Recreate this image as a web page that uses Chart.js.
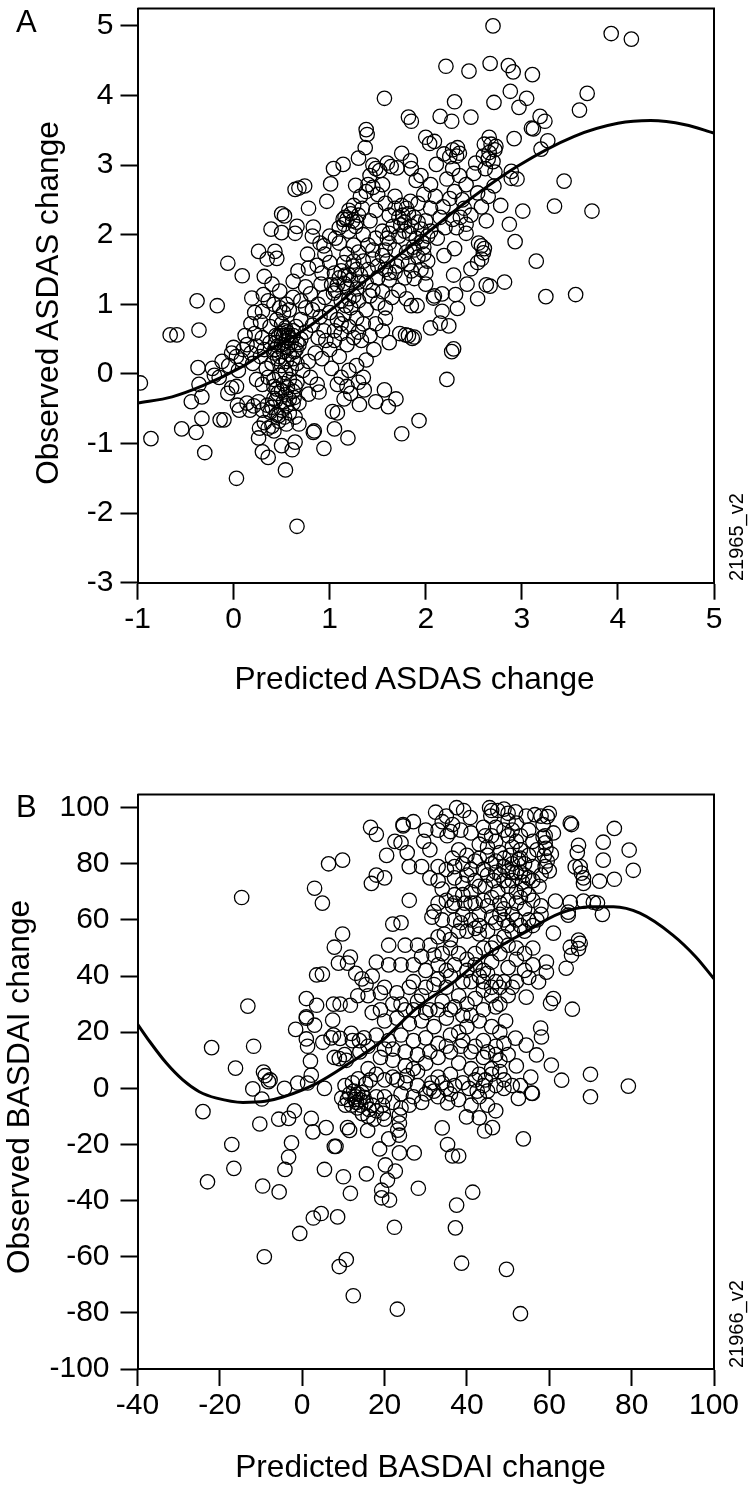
<!DOCTYPE html>
<html>
<head>
<meta charset="utf-8">
<script src="https://cdn.jsdelivr.net/npm/chart.js@4"></script>
<style>
  html, body { margin: 0; padding: 0; background: #fff; }
  body { width: 748px; height: 1486px; position: relative; overflow: hidden; font-family: "Liberation Sans", sans-serif; color: #000; }
  canvas { position: absolute; left: 0; display: block; }
  .tag { position: absolute; font-size: 31px; line-height: 31px; }
  .code { position: absolute; font-size: 20px; line-height: 20px; transform-origin: left top; transform: rotate(-90deg); white-space: nowrap; }
  .xtitle { position: absolute; font-size: 31.6px; line-height: 36px; white-space: nowrap; transform: translate(-50%, -50%); }
  .ytitle { position: absolute; font-size: 31.6px; line-height: 36px; white-space: nowrap; transform: translate(-50%, -50%) rotate(-90deg); }
</style>
</head>
<body>
<canvas id="chartA" width="748" height="700" style="top:0"></canvas>
<canvas id="chartB" width="748" height="700" style="top:786px"></canvas>
<div class="tag" style="left:16px;top:6px">A</div>
<div class="tag" style="left:16px;top:791px">B</div>
<div class="code" style="left:726px;top:581px">21965_v2</div>
<div class="code" style="left:726px;top:1368px">21966_v2</div>
<div class="xtitle" style="left:414.5px;top:678px">Predicted ASDAS change</div>
<div class="ytitle" style="left:47px;top:302.5px">Observed ASDAS change</div>
<div class="xtitle" style="left:420.5px;top:1466px">Predicted BASDAI change</div>
<div class="ytitle" style="left:18px;top:1087px">Observed BASDAI change</div>
<script>
const ticksAx = [-1, 0, 1, 2, 3, 4, 5];
const ticksAy = [-3, -2, -1, 0, 1, 2, 3, 4, 5];
const ticksBx = [-40, -20, 0, 20, 40, 60, 80, 100];
const ticksBy = [-100, -80, -60, -40, -20, 0, 20, 40, 60, 80, 100];

const curveA = [[-1,-0.42],[-0.64,-0.33],[-0.32,-0.17],[0.07,0.09],[0.35,0.33],[0.69,0.59],[1.04,0.95],[1.24,1.19],[1.91,1.91],[2.43,2.48],[2.95,2.98],[3.54,3.41],[4.0,3.6],[4.34,3.64],[4.7,3.58],[5,3.46]];
const curveB = [[-40,22.9],[-37,16.6],[-33,9],[-29,3],[-25,-1.2],[-20.8,-3.5],[-14.4,-5],[-9,-4.6],[-4.7,-3.1],[3.5,1.8],[11.5,9],[19,16.5],[27.8,28.6],[36.8,37.9],[44.7,47.5],[53.7,55.3],[62.7,62.4],[70,64.7],[75.6,64.7],[82,62.4],[90,54.6],[95.6,46.8],[100,39]];

const scatterA = [
[2.70,5.00],[3.93,4.89],[4.14,4.81],[2.21,4.42],[2.45,4.35],[2.67,4.46],[2.86,4.43],[2.91,4.34],[3.11,4.30],[2.88,4.06],[3.05,3.96],[2.71,3.90],[2.97,3.83],[2.30,3.91],[1.57,3.96],[3.68,4.03],[3.60,3.79],[2.15,3.70],[2.27,3.63],[2.47,3.69],[1.82,3.69],[1.85,3.63],[3.19,3.70],[3.24,3.63],[3.10,3.53],[3.12,3.52],[2.92,3.38],[3.27,3.35],[3.20,3.23],[2.0,3.40],[2.04,3.31],[2.09,3.34],[2.66,3.40],[2.61,3.30],[2.73,3.27],[2.68,3.30],[2.72,3.22],[2.66,3.18],[2.60,3.13],[2.70,3.05],[2.65,3.09],[2.33,3.25],[2.35,3.17],[2.32,3.13],[2.19,3.16],[2.11,3.01],[2.25,3.12],[2.28,3.22],
[1.75,3.17],[1.84,3.06],[1.60,3.03],[1.64,2.98],[1.70,2.96],[2.52,3.03],[2.5,2.88],[2.89,2.91],[2.95,2.80],[2.89,2.81],[2.71,2.70],[2.54,2.60],[3.44,2.77],[3.34,2.41],[3.73,2.34],[2.78,2.42],[3.01,2.34],[2.63,2.20],[2.87,2.15],[2.93,1.90],[3.15,1.62],[3.25,1.11],[3.56,1.14],[2.82,1.32],[2.63,1.28],[2.67,1.26],[2.43,1.29],[2.29,1.42],[2.47,1.51],
[2.55,1.88],[2.58,1.84],[2.61,1.80],[2.60,1.74],[2.58,1.65],[2.54,1.60],[2.30,1.80],[2.19,1.70],[2.0,1.45],[1.88,1.37],[2.0,1.29],[2.09,1.12],[2.17,1.15],[2.31,1.14],[2.54,1.08],[2.22,-0.08],[2.27,0.32],[2.29,0.36],[1.93,-0.67],[1.75,-0.86],[2.05,0.66],[2.15,0.73],[2.24,0.69],[2.17,0.90],[2.33,0.94],[2.08,1.09],[1.91,0.98],[1.73,0.58],[1.86,0.51],[1.79,0.56],[1.82,0.55],[1.88,0.53],
[0.66,-2.19],[0.03,-1.50],[0.54,-1.38],[-0.86,-0.93],[-0.97,-0.13],[-0.66,0.56],[-0.59,0.56],[-0.38,1.05],[-0.17,0.98],[-0.36,0.63],[-0.37,0.09],[-0.36,-0.15],[-0.33,-0.33],[-0.44,-0.40],[-0.33,-0.64],[-0.54,-0.79],[-0.39,-0.84],[-0.30,-1.13],[-0.14,-0.66],[-0.10,-0.66],
[0.26,-0.92],[0.30,-1.12],[0.36,-1.20],[0.50,-1.03],[0.61,-1.09],[0.64,-0.98],[0.94,-1.07],[1.19,-0.92],[0.83,-0.84],[0.84,-0.82],[1.05,-0.79],[0.68,-0.72],[1.03,-0.54],[1.08,-0.56],[1.31,-0.44],[1.48,-0.40],[1.61,-0.47],[1.69,-0.36],[1.57,-0.23],[1.36,-0.23],[1.15,-0.36],[0.89,-0.26],[0.87,-0.15],[0.78,-0.29],[0.68,-0.42],
[1.38,3.51],[1.39,3.44],[1.37,3.25],[1.30,3.10],[1.14,3.01],[1.04,2.95],[1.01,2.73],[1.27,2.71],[0.97,2.48],[0.74,2.70],[0.68,2.67],[0.64,2.65],[0.78,2.38],[0.50,2.30],[0.53,2.27],[0.39,2.08],[0.50,2.03],[0.64,2.02],[0.66,2.12],[0.83,2.11],[0.82,1.98],[0.94,1.84],[1.06,1.95],[1.00,1.98],[1.10,1.88],[0.26,1.76],[0.35,1.65],[0.43,1.76],[0.45,1.66],[-0.06,1.59],[0.09,1.41],[0.32,1.40],[0.77,1.72],[0.87,1.56],[0.78,1.52],[0.67,1.48],[0.62,1.33],[0.40,1.29],[0.91,1.29],[0.19,1.09],[0.31,1.14],[0.48,1.19],[0.80,1.15],[1.04,1.16],
[1.45,3.0],[1.48,2.95],[1.42,2.85],[1.52,2.92],[1.40,2.72],[1.45,2.68],[1.38,2.62],[1.5,2.58],[1.55,2.72],[1.32,2.55],[1.25,2.42],[1.22,2.3],[1.18,2.22],[1.3,2.28],[1.34,2.38],[1.15,2.15],[1.2,2.05],[1.27,2.12],[1.42,2.2],[1.48,2.35],[1.58,2.45],[1.62,2.28],[1.68,2.55],[1.75,2.42],[1.72,2.25],[1.66,2.12],[1.78,2.18],[1.82,2.3],[1.85,2.12],[1.78,2.05],[1.72,1.98],[1.83,2.02],[1.88,2.25],[1.92,2.45],[1.98,2.58],[2.05,2.72],[1.9,2.78],[1.85,2.95],[1.95,2.85],[2.1,2.55],[2.18,2.4],[2.25,2.52],[2.3,2.62],[2.38,2.5],[2.42,2.72],[2.35,2.85],[2.22,2.8],[2.28,2.95],
[2.4,2.38],[2.36,2.25],[2.28,2.22],[2.42,2.15],[2.47,2.28],[2.32,2.1],[2.0,2.2],[1.95,2.08],[1.9,1.95],[2.05,2.05],[2.12,1.95],[1.98,1.82],[1.87,1.82],[1.8,1.75],[1.75,1.62],[1.68,1.78],[1.62,1.88],[1.55,1.7],[1.6,1.62],[1.5,1.55],[1.7,1.55],[1.82,1.58],[1.92,1.68],[2.02,1.62],[1.95,1.5],[1.78,1.38],[1.62,1.35],[1.5,1.38],[1.4,1.5],[1.35,1.62],[1.3,1.75],[1.4,1.85],[1.48,1.95],[1.55,2.05],[1.35,2.0],[1.25,1.85],[1.18,1.72],[1.15,1.6],[1.12,1.48],[1.2,1.42],[1.28,1.5],[1.22,1.35],[1.15,1.3],[1.1,1.38],[1.18,1.25],[1.28,1.22],[1.38,1.32],
[1.05,1.45],[1.0,1.6],[0.95,1.72],[0.9,1.88],[1.02,1.28],[0.95,1.1],[0.88,1.0],[0.82,0.92],[0.75,0.95],[0.7,1.05],[0.62,1.1],[0.55,1.0],[0.58,0.92],[0.52,0.88],[0.48,0.95],[0.42,1.0],[0.36,1.05],[0.3,0.9],[0.22,0.88],[0.28,0.75],[0.18,0.72],[0.12,0.55],[0.22,0.58],[0.3,0.52],[0.38,0.68],[0.45,0.78],[0.5,0.72],[0.54,0.66],[0.56,0.6],[0.52,0.55],[0.58,0.52],[0.55,0.48],[0.6,0.45],[0.5,0.42],[0.56,0.38],[0.52,0.32],[0.58,0.28],[0.48,0.25],[0.62,0.22],[0.55,0.18],[0.5,0.12],[0.6,0.08],[0.54,0.02],[0.48,-0.02],[0.58,-0.08],[0.52,-0.14],[0.56,-0.2],[0.5,-0.24],[0.54,-0.3],[0.58,-0.36],[0.52,-0.4],[0.55,-0.46],[0.5,-0.52],[0.58,-0.56],[0.53,-0.62],[0.47,-0.68],[0.4,-0.75],[0.42,-0.82],[0.36,-0.78],[0.55,-0.72],[0.45,-0.58],
[0.65,0.35],[0.7,0.5],[0.75,0.6],[0.82,0.7],[0.9,0.82],[1.0,0.88],[1.08,0.78],[1.15,0.85],[1.22,0.95],[1.3,1.05],[1.42,1.12],[1.5,1.02],[1.58,0.95],[1.65,1.1],[1.72,1.2],[1.8,1.08],[1.85,0.98],[1.38,0.92],[1.28,0.8],[1.2,0.68],[1.12,0.58],[1.05,0.48],[1.0,0.35],[1.1,0.25],[1.18,0.42],[1.25,0.52],[1.33,0.48],[1.42,0.55],[1.48,0.72],[1.58,0.8],[1.35,0.72],[1.55,0.62],[1.62,0.45],[1.46,0.35],[1.38,0.2],[1.28,0.12],[1.2,0.05],[1.12,-0.05],[1.08,-0.15],[1.18,-0.18],[1.22,-0.28],[1.3,-0.12],[1.35,-0.05],[1.02,0.08],[0.92,0.22],[0.85,0.3],[0.78,0.18],[0.72,0.05],[0.8,-0.05],[0.66,-0.12],[0.96,0.48],[0.88,0.52],[0.94,0.62],
[-0.22,0.08],[-0.12,0.18],[-0.05,0.12],[-0.02,0.3],[0,0.38],[0.03,0.25],[-0.15,-0.05],[-0.2,-0.02],[-0.06,-0.28],[-0.02,-0.2],[0.03,-0.18],[0.05,0.05],[0.08,0.2],[0.1,0.35],[0.14,0.42],[0.18,0.3],[0.2,0.15],[0.24,0.4],[0.28,0.25],[0.32,0.35],[0.38,0.45],[0.4,0.15],[0.42,0.3],[0.44,0.55],[0.46,0.4],[0.34,0.08],[0.36,-0.05],[0.3,-0.15],[0.24,-0.08],[0.42,-0.18],[0.46,-0.28],
[0.04,-0.45],[0.06,-0.52],[0.14,-0.42],[0.17,-0.52],[0.21,-0.46],[0.26,-0.4],[0.3,-0.52],[0.35,-0.45],[0.38,-0.55],[0.42,-0.35],[0.32,-0.7],[0.27,-0.78],
[1.16,1.42],[1.24,1.55],[1.08,1.28],[1.32,1.42],[1.06,1.2],[1.25,1.12],[1.2,2.35],[1.16,2.25],[1.14,2.22],[1.24,2.2],[1.1,2.1],[1.28,2.18],[1.12,1.05],[1.2,1.08],[1.17,0.98],[1.62,2.02],[1.74,2.14],[1.92,2.18],[1.8,2.38],[1.6,1.95],[1.88,1.78],[1.58,1.78],[1.96,1.9],[1.76,2.28],[1.68,2.38],[1.85,1.48],[2.02,1.98],[1.68,1.46],[1.84,2.48],[1.98,1.72],[1.45,1.78],[1.58,1.5],
[0.5,0.58],[0.53,0.62],[0.57,0.55],[0.62,0.62],[0.47,0.55],[0.66,0.45],[0.44,0.45],[0.43,0.35],[0.63,0.32],[0.46,0.22],[0.66,0.15],[0.62,-0.25],[0.45,-0.22],[0.63,-0.34],[0.64,-0.18],[0.44,-0.38],[0.42,-0.08],[0.62,-0.42],[0.64,-0.62],[0.4,-0.48],[0.47,-0.6],
[2.42,2.02],[2.2,2.1],[2.15,2.25],[2.58,2.4],[2.65,2.55],[2.72,2.9],[2.62,2.95],[2.05,2.38],[1.45,1.2],[1.55,1.18],[1.62,1.45],[1.3,1.32],[1.25,1.62],[1.45,1.65],[1.3,0.6],[1.12,0.72],[1.05,0.62],[0.92,1.45],[0.75,1.25],[0.7,0.78],[0.65,0.68],[0.62,0.55],[0.68,0.42]
];

const scatterB = [
[-14.7,68],[-13.2,29.3],[-22,14.5],[-11.8,15],[-16.2,7.2],[-9.4,5.8],[-9,4.5],[-7.8,3],[-8.2,2.4],[-12,-0.2],[-4.3,0],[-1.1,1.9],[2.2,4.7],[1.3,1.9],[5.4,0],[2,9.7],[1,17.6],[1.3,15],[-1.6,21],[3,22.5],[1,25],[1,25.5],[1,32],[3.5,29.6],[7.4,24.3],[7.6,30],[9.2,30],[11.7,29.6],[13.5,33],[3.5,40.4],[4.9,40.7],[8.8,44.6],[11,44.6],[11.7,46.8],[7.8,50.3],[9.8,55],[3,71.3],[4.9,66],[6.4,80],[9.8,81.3],[16.8,73],[16.6,93],[18,90.5],[13,41],[14.5,39],[15.5,37],[16,33],[19,34],
[5,16.4],[7,18],[7.6,19],[9.2,17.8],[11.9,19.6],[12.2,17],[13.9,17],[15,18],[7.8,11],[10.3,12],[9,10.6],[10.7,10],[12.5,-1],[13,-3],[13.5,-2],[14,-4],[13.2,-5],[14.5,-1.5],[15,-3.2],[12.8,-4],[11.5,-2],[11,-4],[15.5,-5],[14.2,-6],[12,-6],[13.4,-7],[16.2,-7.5],[17,-6],[18,-3],[10.5,-6],[9.6,-3.5],
[-24.1,-8.3],[-17.1,-20],[-16.6,-28.5],[-23,-33.3],[-9.6,-34.8],[-5.6,-36.9],[-10.3,-12.7],[-9.8,-3.8],[-5.7,-11],[-3.3,-10.7],[-1.9,-8],[2.2,-10.7],[2.6,-15.5],[5.8,-14],[-2.6,-19.4],[-3.3,-24.5],[-4.2,-28.9],[5.4,-28.9],[7.8,-20.7],[8.2,-20.7],[10,-31.5],[11.7,-37.4],[15.6,-30.5],[2.7,-46.2],[4.6,-44.6],[8.6,-45.8],[-0.6,-51.7],[-9.2,-60],[10.7,-61],[9,-63.5],[12.4,-73.9],[23.1,-78.7],[53,-80.3],[49.6,-64.5],[38.7,-62.3],[37.2,-49.7],[37.5,-41.6],[41.4,-37],[22.4,-49.5],[28.2,-35.6],[21.2,-39.8],[19.3,-39],[19.3,-36.3],[20.7,-32.7],[20.2,-27.3],[22.6,-29.5],[23.6,-23],[27.2,-23],[18.8,-21.6],[21,-18],[23.6,-16.7],[23.2,-14.9],[23.6,-12.4],[23.6,-9.5],[35.3,-20],[36.5,-24.1],[38,-24.1],[34,-14.1],[39.9,-10.2],[44.3,-15.2],[46.2,-14],[43,-10.5],[53.7,-18],[11,-14],[11.5,-15],[15.9,-15],[19.7,-8.9],[35.3,-5.2],[52.5,-3.6],[55.9,-1.8],
[75.8,92.6],[73.1,87.7],[79.4,84.9],[73.1,81.3],[80.4,77.7],[75.8,74.5],[72.2,73.8],[65.1,94.5],[65.4,94],[67.1,86.6],[66.8,84],[66.3,78.9],[67.5,79],[67.8,76.7],[68.3,75],[68.3,73],[68.3,66.7],[70.7,66.3],[71.7,66],[72.9,62],[65.1,66.3],[64.6,62.8],[64.6,61.7],[61.5,66.7],[61,55.3],[67.1,52.8],[67.5,51.7],[65.1,50.3],[67.1,49.8],[65.4,47.4],[64.1,42.8],[59.3,45],[59.3,41.4],[57.4,37.9],[55,39.5],[61,32],[60.3,30.3],[65.6,28.2],[54.4,32.5],[57.9,21.5],[58.1,18.3],[49.4,24],[51.8,17.9],[54.4,15.4],[56.9,11.9],[60.5,8.3],[63,2.9],[70,5],[70,-3],[79.2,0.8],[55.7,-1.7],[55.5,4],
[32.4,98.4],[35,97],[37.5,100],[39.2,99],[40.8,96.5],[36.5,94],[36,91.5],[35.2,90],[34,95],[33,92],[38.5,92],[41,91],[43,87],[44.5,90],[45.5,100],[46,99],[45.8,97],[47.5,99],[49,99.5],[50,98],[51.8,98.5],[50,95.5],[52,94.5],[54.4,97],[56.5,97.5],[58,97],[59.5,96.8],[60,98],[58.5,94],[61,91],[59,90],[47,93],[45,86],[48,84],[30,92],[29.5,88],[31,85],[27,95],[24.5,94],[24.5,93.5],[20.5,83],[22.5,88],[24,87.5],[25.5,84],[20,75],[18,76],[26,79],[29,79],[31,75],[33,74],[34,71],
[58.5,89.5],[59,87.5],[59.2,85.5],[58.8,83],[59.5,81],[59,79],[60,77.5],[58,76],[60.5,83.5],[50,90],[52,88],[51,86],[53,85],[50.5,83],[52.5,81.5],[54,80],[49,79],[50,77.5],[51,77],[52,76.8],[53,77],[54,76],[55,75],[56,79],[53.5,73.5],[57.5,72],[48,76],[46,80],[44,78],[42,81],[40,83],[38,85],[36.5,82],[40,76],[42,74],[44.5,72],[46.5,74],[47.5,70],[50,72],[52,70],
[37,75],[39,73],[35,67],[36.5,65],[33,66],[32,63],[31.5,61],[34.5,55],[33,54],[37,66],[39.5,66],[41,66],[38.5,59],[41,60],[43,62],[45,65],[46,68],[48,66],[49,64],[51,62],[52,66],[54,64],[56,67],[58,65],[55,60],[56,58],[53,58],[51,56],[49,60],[47,59],[45,56],[43,55],[42,57],[40,56],[38,56],[36,53],[36,50],[38,48],[40,46],[42,44],[44,42],[46,45],[48,48],[50,51],[47,52],[44,50],[42,48],[52,46],[54,42],[56,44],[50,43],[47,38],[45,41],[49,38],[52,38],[51,36],
[26,67],[24,59],[22,58.5],[21,51],[25,51],[28,51],[29,47],[32,47.5],[33,44],[35,42],[30,42],[27,44],[24,44],[21,44],[18,45],[17,40],[20,36],[23,34],[26,36],[29,33],[32,37],[35,36],[38,33],[40,30],[42,32],[44,35],[46,33],[48,30],[37,29],[34,31],[31,28],[28,31],[25,28],[22,30],[19,28],[17,27],[20,24],[23,25],[26,23],[29,24],[32,22],[35,25],[38,20],[40,22],[43,24],[46,22],[48,20],[44,17],[42,15],[45,13],[47,15],[39,17],[36,19],[33,16],[30,18],[27,17],[24,19],[21,17],[18,19],[16,15],[14,13],
[19,11],[22,10],[25,8],[28,6],[30,9],[33,11],[36,13],[38,9],[41,7],[43,5],[46,7],[48,10],[50,12],[52,8],[49,3],[47,1],[44,1],[42,3],[39,2],[36,5],[34,2],[32,-1],[30,-2],[28,1],[25,2],[22,4],[20,3],[18,5],[16,7],[24,-2],[27,-3],[29,-5],[31,0],[33,-3],[36,-2],[38,-4],[41,-6],[43,-3],[45,-1],[45,-6],[47,-8],[49,0],[51,1],[53,1],[20,-3],[22,-5],[24,-7],[26,-6],[18,-8],[20,-11],[16,-10],
[12.2,2],[13.6,3.4],[14.6,-9],[10.4,1],[15.4,1.5],[16.5,3],[19.5,-6],[17.4,-11],[23,3],[25.5,4.5],[27,7],[31.5,2],[33,4],[35,0],[37,1],[40.5,0],[42.5,-1],[44.5,3],[46,5],[48,6],[47,12],[49,16],[44,11],[41,13],[38.5,15],[35,15],[31,13],[28,12],[25,13],[22,14],[20,14],
[44,38],[46,36],[48,36],[50,33],[47,29],[44,28],[41,26],[39,26],[36,28],[33,28],[30,27],[27,28],[24,30],[27,38],[30,36],[33,39],[36,40],[39,38],[41,38],[43,40],[40,42],[37,44],[34,48],[31,51],[34,60],[37,60],[39,62],[43,58],[46,61],[48,62],[50,58],[52,60],[54,56],[57,60],[58,62],[56,50],[54,48],[52,50],[49,54],[46,50],
[44,93],[46,90],[47,88],[49,92],[51,92],[53,90],[55,92],[56,88],[57,85],[55,83],[53,82],[51,80],[49,82],[47,81],[45,83],[43,82],[41,78],[39,80],[37,79],[35,78],[33,79],[56,74],[54,71],[51,74],[49,74],[47,77],[45,76],[43,72],[41,70],[39,69],[37,69],[42,66],[44,67],[50,67],[53,68],[55,69]
];

function toPoints(list) {
  return list.map(p => ({ x: p[0], y: p[1] }));
}

// top and right sides of the frame
const boxPlugin = {
  id: 'box',
  afterDraw(chart) {
    const { ctx, chartArea: a } = chart;
    ctx.save();
    ctx.strokeStyle = '#000';
    ctx.lineWidth = 2;
    ctx.beginPath();
    ctx.moveTo(a.left, a.top);
    ctx.lineTo(a.right, a.top);
    ctx.lineTo(a.right, a.bottom);
    ctx.stroke();
    ctx.restore();
  }
};

function makeChart(id, cfg) {
  return new Chart(document.getElementById(id), {
    type: 'scatter',
    data: {
      datasets: [
        {
          data: toPoints(cfg.points),
          showLine: false,
          pointStyle: 'circle',
          pointRadius: 7.2,
          pointBorderWidth: 1.3,
          pointBorderColor: '#000',
          pointBackgroundColor: 'rgba(0,0,0,0)'
        },
        {
          data: toPoints(cfg.curve),
          showLine: true,
          borderColor: '#000',
          borderWidth: 3,
          pointRadius: 0,
          cubicInterpolationMode: 'monotone'
        }
      ]
    },
    options: {
      responsive: false,
      animation: false,
      layout: { padding: { top: cfg.top, right: 34, left: 0, bottom: 0 } },
      plugins: { legend: { display: false }, tooltip: { enabled: false } },
      scales: {
        x: {
          min: cfg.xMin,
          max: cfg.xMax,
          afterBuildTicks: s => { s.ticks = cfg.xTicks.map(v => ({ value: v })); },
          afterFit: s => { s.height = 700 - cfg.bottom; s.paddingLeft = 0; s.paddingRight = 0; },
          grid: { drawOnChartArea: false, tickLength: 17, tickWidth: 2, tickColor: '#000' },
          border: { color: '#000', width: 2 },
          ticks: { color: '#000', font: { size: 30, family: '"Liberation Sans"' }, padding: 2, maxRotation: 0, autoSkip: false },
        },
        y: {
          min: cfg.yMin,
          max: cfg.yMax,
          afterBuildTicks: s => { s.ticks = cfg.yTicks.map(v => ({ value: v })); },
          afterFit: s => { s.width = 137.5; s.paddingTop = 0; s.paddingBottom = 0; },
          grid: { drawOnChartArea: false, tickLength: 17, tickWidth: 2, tickColor: '#000' },
          border: { color: '#000', width: 2 },
          ticks: { color: '#000', font: { size: 30, family: '"Liberation Sans"' }, padding: cfg.yPad, autoSkip: false }
        }
      }
    },
    plugins: [boxPlugin]
  });
}

makeChart('chartA', {
  points: scatterA, curve: curveA, top: 7, bottom: 582.7,
  xMin: -1, xMax: 5, yMin: -3, yMax: 5.25,
  xTicks: ticksAx, yTicks: ticksAy, yPad: 7
});

makeChart('chartB', {
  points: scatterB, curve: curveB, top: 8.3, bottom: 583,
  xMin: -40, xMax: 100, yMin: -100, yMax: 104.7,
  xTicks: ticksBx, yTicks: ticksBy, yPad: 11
});
</script>
</body>
</html>
